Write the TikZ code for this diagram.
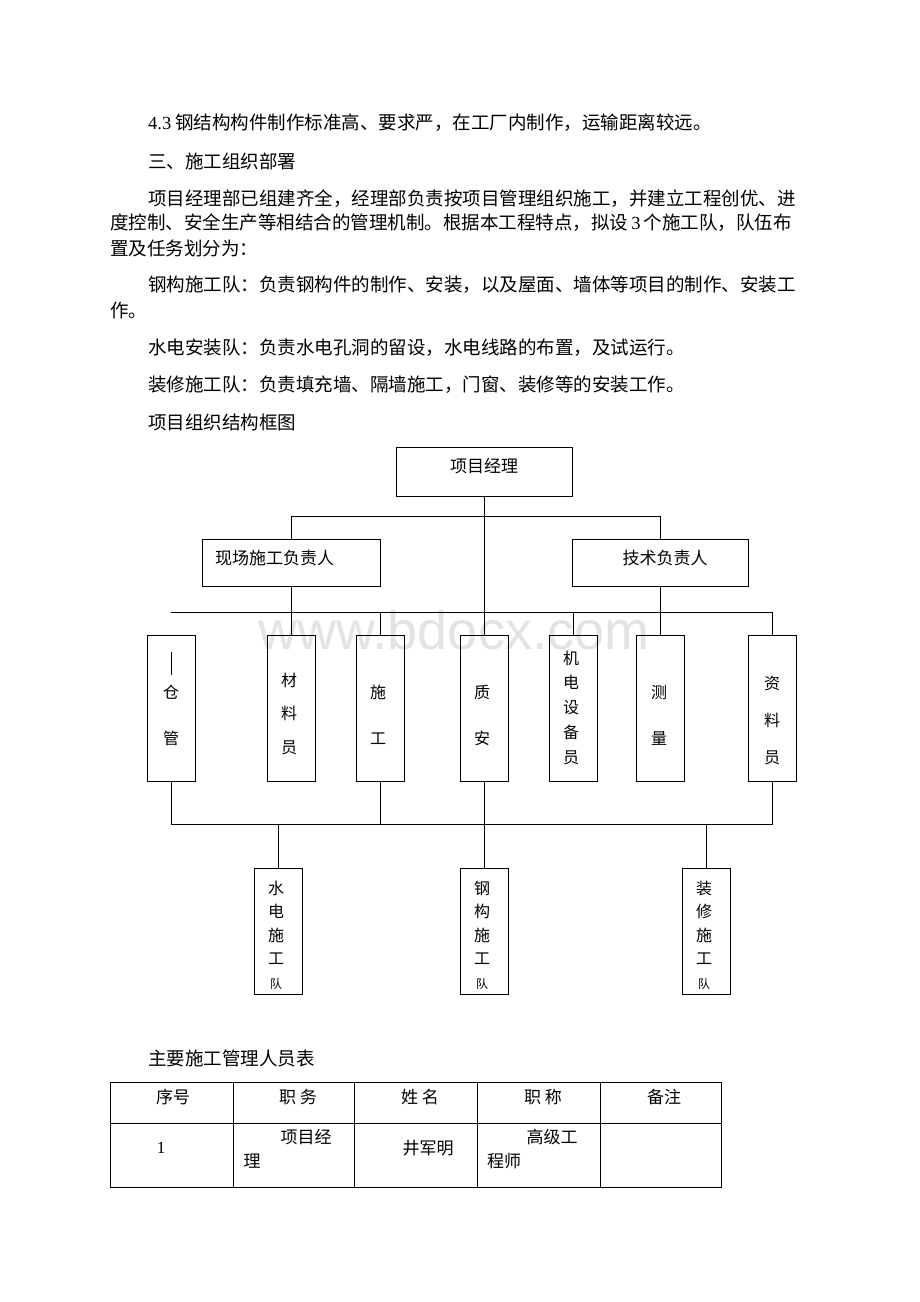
\documentclass[tikz,border=0pt]{standalone}
\usepackage{fontspec}
\setmainfont{Noto Sans CJK SC}
\newfontfamily\latn{Liberation Serif}
\newfontfamily\wmark{Liberation Sans}
\XeTeXlinebreaklocale "zh"
\XeTeXlinebreakskip=0pt plus 1pt
\newcommand{\fullline}[2]{\makebox[#1][s]{#2}}
\tikzset{
  box/.style={draw, line width=1pt, inner sep=0pt},
  colbox/.style={box, minimum width=48, minimum height=146},
  teambox/.style={box, minimum width=48, minimum height=126},
  para/.style={anchor=west, inner sep=0pt, font=\fontsize{18.5}{22}\selectfont},
  tag/.style={inner sep=0pt, align=center},
  link/.style={line width=1pt}
}
\begin{document}
\begin{tikzpicture}[x=1pt,y=-1pt]
\useasboundingbox[fill=white] (0,0) rectangle (920,1302);
% watermark
\node[text=gray!22, font=\wmark\fontsize{54}{60}\selectfont] (wm) at (454,630) {www.bdocx.com};
% text above the chart
\node[para] (t1) at (148,123) {{\latn 4.3} 钢结构构件制作标准高、要求严，在工厂内制作，运输距离较远。};
\node[para] (t2) at (148,161) {三、施工组织部署};
\node[para] (t3) at (148,199) {\fullline{658pt}{项目经理部已组建齐全，经理部负责按项目管理组织施工，并建立工程创优、进}};
\node[para] (t4) at (110,223) {\fullline{696pt}{度控制、安全生产等相结合的管理机制。根据本工程特点，拟设{\latn\,3\,}个施工队，队伍布}};
\node[para] (t5) at (110,248) {置及任务划分为：};
\node[para] (t6) at (148,285) {\fullline{658pt}{钢构施工队：负责钢构件的制作、安装，以及屋面、墙体等项目的制作、安装工}};
\node[para] (t7) at (110,310) {作。};
\node[para] (t8) at (148,348) {水电安装队：负责水电孔洞的留设，水电线路的布置，及试运行。};
\node[para] (t9) at (148,385) {装修施工队：负责填充墙、隔墙施工，门窗、装修等的安装工作。};
\node[para] (t10) at (148,422) {项目组织结构框图};

% chart boxes
\node[box, minimum width=176, minimum height=49] (pm) at (484,472) {};
\node[font=\fontsize{17}{20}\selectfont] (pmt) at (484,466) {项目经理};
\node[box, minimum width=178, minimum height=47] (site) at (291,563) {};
\node[anchor=west, inner sep=0pt, font=\fontsize{17}{20}\selectfont] (sitet) at (215,558) {现场施工负责人};
\node[box, minimum width=176, minimum height=47] (tech) at (660,563) {};
\node[font=\fontsize{17}{20}\selectfont] (techt) at (665,558) {技术负责人};

\node[colbox] (store) at (171,708) {};
\node[colbox] (mat) at (291,708) {};
\node[colbox] (cons) at (380,708) {};
\node[colbox] (qs) at (484,708) {};
\node[colbox] (mech) at (573,708) {};
\node[colbox] (survey) at (660,708) {};
\node[colbox] (docs) at (772,708) {};

\node[tag, font=\fontsize{16}{46}\selectfont] (storet) at (171,715) {仓\\管};
\draw[link] ([yshift=-17pt]store.north) -- ++(0,23);
\node[tag, font=\fontsize{16}{33.5}\selectfont] (matt) at (289,713.5) {材\\料\\员};
\node[tag, font=\fontsize{16}{46}\selectfont] (const) at (378,715) {施\\工};
\node[tag, font=\fontsize{16}{46}\selectfont] (qst) at (482,715) {质\\安};
\node[tag, font=\fontsize{16}{24.75}\selectfont] (mecht) at (571,707.5) {机\\电\\设\\备\\员};
\node[tag, font=\fontsize{16}{46}\selectfont] (surveyt) at (659,715) {测\\量};
\node[tag, font=\fontsize{16}{37}\selectfont] (docst) at (772,720) {资\\料\\员};

\node[teambox] (water) at (278,931) {};
\node[teambox] (steel) at (484,931) {};
\node[teambox] (deco) at (706,931) {};
\node[tag, font=\fontsize{16}{23.5}\selectfont] (watert) at (276,935) {水\\电\\施\\工\\{\fontsize{12}{23.5}\selectfont 队}};
\node[tag, font=\fontsize{16}{23.5}\selectfont] (steelt) at (482,935) {钢\\构\\施\\工\\{\fontsize{12}{23.5}\selectfont 队}};
\node[tag, font=\fontsize{16}{23.5}\selectfont] (decot) at (704,935) {装\\修\\施\\工\\{\fontsize{12}{23.5}\selectfont 队}};

% connectors
\coordinate (rowL) at (171,612);
\coordinate (rowR) at (772,612);
\coordinate (busL) at (171,824);
\draw[link] (pm.south) -- (qs.north);
\draw[link] (site.north) -- ++(0,-23) -| (tech.north);
\draw[link] (rowL) -- (rowR);
\draw[link] (site.south) -- (mat.north);
\draw[link] (tech.south) -- (survey.north);
\draw[link] (cons.north) -- (cons.north |- rowL);
\draw[link] (mech.north) -- (mech.north |- rowL);
\draw[link] (docs.north) -- (rowR);
\draw[link] (store.south) -- (busL) -| (docs.south);
\draw[link] (cons.south) -- (cons.south |- busL);
\draw[link] (qs.south) -- (steel.north);
\draw[link] (water.north) -- (water.north |- busL);
\draw[link] (deco.north) -- (deco.north |- busL);

% staff table
\node[para] (t11) at (148,1058) {主要施工管理人员表};
\draw[link] (110,1082) rectangle (721,1187);
\draw[link] (110,1123) -- (721,1123);
\foreach \cx in {233,354,477,600}
  \draw[link] (\cx,1082) -- (\cx,1187);
\begin{scope}[every node/.style={inner sep=0pt, font=\fontsize{17}{20}\selectfont}]
\node (h1) at (173,1097) {序号};
\node (h2) at (298,1097) {职 务};
\node (h3) at (420,1097) {姓 名};
\node (h4) at (543,1097) {职 称};
\node (h5) at (664,1097) {备注};
\node (c1) at (161,1148) {\latn 1};
\node (c2a) at (306,1137) {项目经};
\node (c2b) at (252,1161) {理};
\node (c3) at (428,1148) {井军明};
\node (c4a) at (552,1137) {高级工};
\node (c4b) at (504,1161) {程师};
\end{scope}
\end{tikzpicture}
\end{document}
